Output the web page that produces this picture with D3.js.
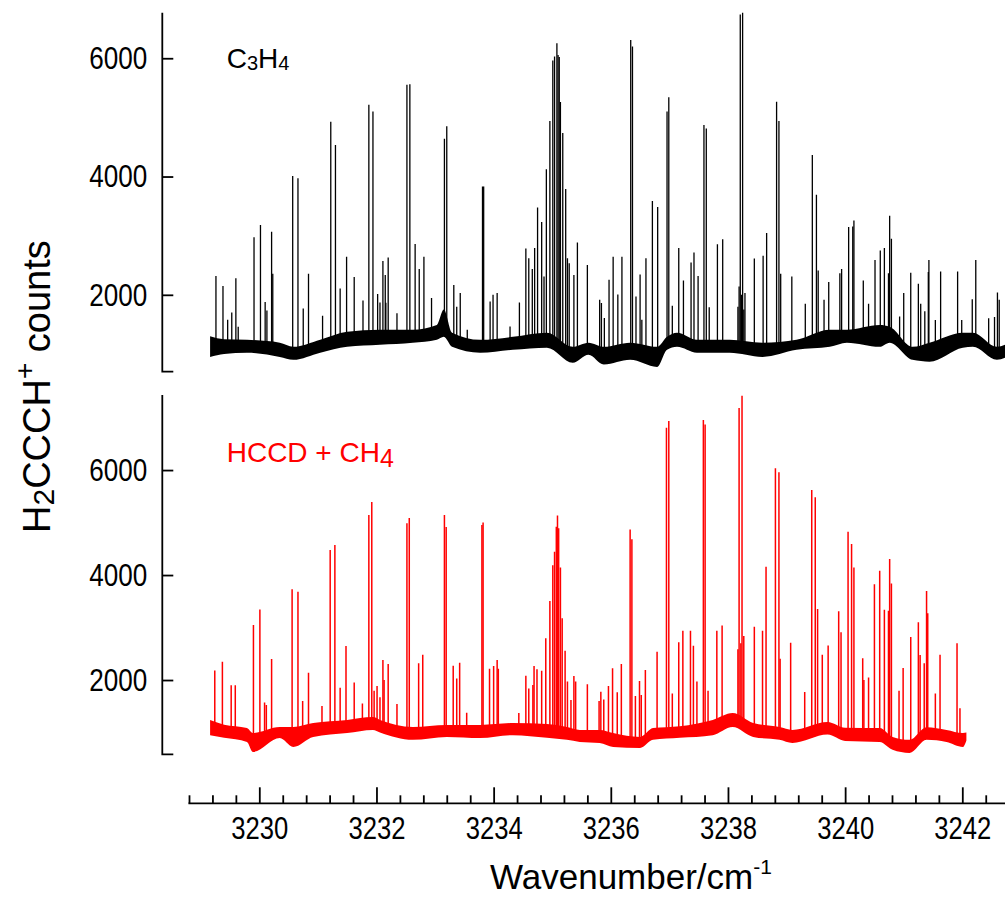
<!DOCTYPE html>
<html><head><meta charset="utf-8">
<script src="https://cdn.jsdelivr.net/npm/d3@7"></script>
<style>body{margin:0;background:#fff} svg{display:block}</style>
</head><body>
<svg id="chart" width="1005" height="897"></svg>
<script>
// ---------- data ----------
const xMajorTicks = [3230, 3232, 3234, 3236, 3238, 3240, 3242];
const xMinorTicks = [3228.8, 3229.2, 3229.6, 3230.4, 3230.8, 3231.2, 3231.6, 3232.4, 3232.8, 3233.2, 3233.6,
  3234.4, 3234.8, 3235.2, 3235.6, 3236.4, 3236.8, 3237.2, 3237.6, 3238.4, 3238.8, 3239.2, 3239.6,
  3240.4, 3240.8, 3241.2, 3241.6, 3242.4];
const yTickValues = [2000, 4000, 6000];

// baseline noise band: [wavenumber, lower counts, upper counts]
const c3h4Baseline = [
  [3229.16, 950, 1300], [3229.40, 1000, 1250], [3229.79, 1020, 1240], [3230.35, 950, 1190],
  [3230.58, 900, 1120], [3231.04, 1020, 1240], [3231.50, 1120, 1375], [3232.06, 1155, 1410],
  [3232.62, 1190, 1410], [3233.03, 1240, 1490], [3233.15, 1290, 1750], [3233.29, 1120, 1360],
  [3233.77, 1020, 1240], [3234.33, 1070, 1290], [3234.91, 1105, 1360], [3235.35, 850, 1120],
  [3235.62, 985, 1190], [3235.88, 820, 1120], [3236.33, 900, 1190], [3236.79, 780, 1120],
  [3236.96, 1070, 1290], [3237.13, 1120, 1360], [3237.47, 1020, 1240], [3238.03, 1020, 1240],
  [3238.59, 950, 1190], [3239.17, 1070, 1240], [3239.74, 1120, 1410], [3240.03, 1190, 1410],
  [3240.59, 1120, 1490], [3240.76, 1190, 1460], [3241.15, 900, 1120], [3241.44, 870, 1190],
  [3242.01, 1105, 1360], [3242.18, 1120, 1360], [3242.59, 900, 1120], [3242.73, 935, 1155]
];
// peaks: [wavenumber, counts at top]
const c3h4Peaks = [
  [3229.26,2320],[3229.38,2150],[3229.46,1580],[3229.53,1700],[3229.60,2280],[3229.64,1460],
  [3229.91,2975],[3230.02,3180],[3230.10,1880],[3230.13,1735],[3230.21,3065],[3230.23,2355],
  [3230.57,4010],[3230.66,3970],[3230.75,1770],[3230.84,2355],[3231.08,1645],
  [3231.22,4925],[3231.30,4535],[3231.38,2105],[3231.49,2645],[3231.62,2300],[3231.77,1905],
  [3231.87,5215],[3231.94,5100],[3232.02,2015],[3232.06,1870],[3232.11,2570],[3232.15,2335],[3232.16,1865],[3232.20,2630],[3232.35,1690],
  [3232.52,5550],[3232.57,5560],[3232.66,2860],[3232.73,2435],[3232.81,2645],[3232.94,1945],
  [3233.16,4640],[3233.20,4850],[3233.32,2165],[3233.37,1800],[3233.43,2030],[3233.55,1410],
  [3233.81,3830],[3233.83,3830],[3233.94,1885],[3233.99,2000],[3234.06,2030],[3234.28,1465],[3234.44,1870],
  [3234.55,2785],[3234.60,2620],[3234.66,2435],[3234.70,2790],[3234.75,3475],[3234.82,3230],[3234.86,2310],
  [3234.90,4125],[3234.96,4940],[3235.01,5960],[3235.04,6030],[3235.08,6255],[3235.10,6055],[3235.12,6020],
  [3235.14,5260],[3235.18,4735],[3235.23,3790],[3235.26,2620],[3235.29,2535],[3235.37,2335],[3235.43,2885],
  [3235.60,2505],[3235.81,1915],[3235.84,1860],[3235.89,1610],[3235.97,2255],[3236.04,2645],[3236.12,2005],[3236.19,2645],
  [3236.34,6310],[3236.37,6200],[3236.43,1970],[3236.50,2345],[3236.53,1580],[3236.60,2620],[3236.71,3585],[3236.80,3485],
  [3236.96,5100],[3236.99,5340],[3237.05,1815],[3237.16,2790],[3237.24,2240],[3237.37,2545],[3237.42,2715],[3237.49,2320],
  [3237.59,4870],[3237.63,4810],[3237.68,1790],[3237.82,2855],[3237.91,2940],
  [3238.17,1800],[3238.19,2140],[3238.21,6740],[3238.23,2000],[3238.25,6770],[3238.27,1750],[3238.29,2030],
  [3238.45,2615],[3238.60,2660],[3238.66,3045],
  [3238.83,5265],[3238.87,4940],[3238.90,2355],[3239.09,2310],[3239.32,1850],
  [3239.44,4365],[3239.51,3690],[3239.54,2410],[3239.64,1915],[3239.72,2215],[3239.91,2365],[3239.94,2435],
  [3240.06,3145],[3240.13,3155],[3240.15,3255],[3240.31,2240],[3240.40,1850],[3240.51,2590],[3240.60,2750],
  [3240.67,2790],[3240.74,2365],[3240.76,3335],[3240.79,2950],
  [3240.93,1635],[3241.00,2030],[3241.12,2375],[3241.25,2185],[3241.29,1850],[3241.36,1720],[3241.42,2385],
  [3241.43,2590],[3241.54,1575],[3241.63,2395],
  [3241.92,2395],[3241.99,1575],[3242.17,1925],[3242.23,2590],[3242.45,1605],[3242.55,1625],[3242.60,2040],[3242.63,1915]
];

const hccdBaseline = [
  [3229.16, 950, 1240], [3229.40, 900, 1150], [3229.79, 820, 1085], [3229.89, 630, 990],
  [3230.35, 895, 1105], [3230.58, 725, 1105], [3230.92, 915, 1180], [3231.50, 990, 1240],
  [3231.94, 1050, 1295], [3232.06, 1000, 1240], [3232.62, 860, 1105], [3233.20, 915, 1145],
  [3233.77, 895, 1145], [3234.33, 950, 1180], [3234.91, 900, 1160], [3235.25, 860, 1105],
  [3235.47, 820, 1050], [3235.81, 800, 1050], [3236.04, 725, 990], [3236.50, 705, 915],
  [3236.72, 860, 1085], [3237.18, 900, 1120], [3237.74, 950, 1240], [3238.08, 1105, 1370],
  [3238.43, 915, 1180], [3238.88, 860, 1105], [3239.10, 800, 1050], [3239.70, 960, 1200],
  [3240.00, 840, 1090], [3240.59, 820, 1085], [3240.81, 670, 915], [3241.10, 610, 860],
  [3241.39, 860, 1100], [3241.73, 820, 1050], [3242.01, 725, 990], [3242.07, 850, 1000]
];
const hccdPeaks = [
  [3229.24,2180],[3229.37,2350],[3229.52,1900],[3229.59,1900],[3229.90,3050],[3230.01,3345],
  [3230.09,1570],[3230.12,1525],[3230.21,2400],[3230.56,3730],[3230.66,3680],[3230.74,1600],[3230.84,2140],
  [3231.07,1505],[3231.21,4475],[3231.29,4570],[3231.38,1855],[3231.48,2650],[3231.62,1955],[3231.76,1555],
  [3231.87,5145],[3231.92,5390],[3231.96,1795],[3232.01,1885],[3232.06,1670],[3232.11,2380],[3232.13,2000],
  [3232.20,2305],[3232.35,1545],[3232.52,4985],[3232.56,5085],[3232.72,2320],[3232.79,2480],
  [3233.16,5145],[3233.19,4915],[3233.31,2270],[3233.37,2030],[3233.42,2330],[3233.54,1375],
  [3233.80,4955],[3233.82,5000],[3233.93,2215],[3234.00,2265],[3234.06,2380],[3234.08,2215],[3234.43,1370],
  [3234.55,2080],[3234.60,1840],[3234.67,1905],[3234.69,2265],[3234.74,2205],[3234.82,2175],[3234.89,2795],
  [3234.96,3505],[3235.01,4185],[3235.04,4445],[3235.07,4920],[3235.09,5135],[3235.11,4890],[3235.14,4145],
  [3235.17,3175],[3235.22,2560],[3235.26,1970],[3235.32,1620],[3235.37,2075],[3235.40,1970],[3235.60,1920],
  [3235.80,1600],[3235.83,1775],[3235.88,1630],[3235.96,1885],[3236.03,2225],[3236.11,1765],[3236.18,2305],
  [3236.33,4870],[3236.36,4680],[3236.42,1695],[3236.49,1980],[3236.52,1715],[3236.59,2190],[3236.79,2540],
  [3236.95,6805],[3236.99,6935],[3237.05,1745],[3237.16,2720],[3237.23,2940],[3237.36,2940],[3237.41,2655],
  [3237.47,1970],[3237.58,6955],[3237.61,6870],[3237.66,1795],[3237.81,2940],[3237.90,3040],
  [3238.17,2585],[3238.19,7180],[3238.22,2700],[3238.24,7415],[3238.27,2840],[3238.45,3015],[3238.59,2940],
  [3238.65,4160],[3238.81,6035],[3238.87,5960],[3238.89,2405],[3239.07,2710],[3239.31,1770],
  [3239.43,5620],[3239.49,5480],[3239.53,3355],[3239.61,2480],[3239.71,2660],[3239.89,3310],[3239.93,2910],
  [3240.05,4825],[3240.11,4590],[3240.15,4145],[3240.30,2415],[3240.32,2000],[3240.40,2050],
  [3240.50,3825],[3240.59,4080],[3240.67,3340],[3240.74,3320],[3240.76,4305],[3240.79,3840],
  [3240.92,1795],[3240.99,2230],[3241.12,2820],[3241.25,3100],[3241.28,2475],[3241.35,2320],[3241.39,3695],
  [3241.41,3270],[3241.54,1745],[3241.62,2480],[3241.91,2700],[3241.96,1460]
];

// ---------- layout ----------
const svg = d3.select("#chart");
const FONT = "'Liberation Sans', Arial, Helvetica, sans-serif";
const axisX = 162.3;
const xAxisY = 803.3;

const x = d3.scaleLinear().domain([3230, 3242]).range([259.3, 962.3]);
const xAxisScale = x.copy().domain([3228.79, 3242.74]).range([x(3228.79), x(3242.74)]);
const yTop = d3.scaleLinear().domain([700, 6770]).range([371.7, 12.7]);
const yBot = d3.scaleLinear().domain([585, 7430]).range([754.3, 395]);

const defs = svg.append("defs");

function drawPanel(baseline, peaks, y, color, id, peakWidth) {
  const [r0, r1] = y.range();
  defs.append("clipPath").attr("id", id).append("rect")
    .attr("x", axisX + 1).attr("y", r1 - 1).attr("width", 1005 - axisX).attr("height", r0 - r1 + 2);
  const g = svg.append("g").attr("clip-path", `url(#${id})`);
  const area = d3.area().x(d => x(d[0])).y0(d => y(d[1])).y1(d => y(d[2])).curve(d3.curveMonotoneX);
  g.append("path").datum(baseline).attr("d", area)
    .attr("fill", color).attr("stroke", "none");
  const center = d3.scaleLinear()
    .domain(baseline.map(d => d[0]))
    .range(baseline.map(d => (d[1] + d[2]) / 2)).clamp(true);
  g.selectAll("line.pk").data(peaks).join("line").attr("class", "pk")
    .attr("x1", d => x(d[0])).attr("x2", d => x(d[0]))
    .attr("y1", d => y(center(d[0]))).attr("y2", d => y(d[1]))
    .attr("stroke", color).attr("stroke-width", peakWidth);
}

drawPanel(c3h4Baseline, c3h4Peaks, yTop, "#000000", "clipTop", 1.3);
drawPanel(hccdBaseline, hccdPeaks, yBot, "#ff0000", "clipBot", 1.5);

// ---------- y axes ----------
function drawYAxis(y) {
  const [r0, r1] = y.range();
  const g = svg.append("g").attr("transform", `translate(${axisX},0)`);
  g.call(d3.axisLeft(y).tickValues(yTickValues).tickSize(-11).tickPadding(15).tickFormat(d3.format("d")));
  g.select(".domain").remove();
  g.selectAll(".tick line").attr("stroke", "#000").attr("stroke-width", 1.8);
  g.selectAll(".tick text").attr("fill", "#000").attr("font-family", FONT).attr("font-size", 32)
    .attr("textLength", 58).attr("lengthAdjust", "spacingAndGlyphs");
  g.append("path").attr("d", `M0,${r1}V${r0}H11`).attr("fill", "none")
    .attr("stroke", "#000").attr("stroke-width", 1.8);
}
drawYAxis(yTop);
drawYAxis(yBot);

// ---------- x axis ----------
const gx = svg.append("g").attr("transform", `translate(0,${xAxisY})`);
gx.call(d3.axisBottom(xAxisScale).tickValues(xMajorTicks).tickSize(-16).tickPadding(13).tickFormat(d3.format("d")));
gx.select(".domain").remove();
gx.selectAll(".tick line").attr("stroke", "#000").attr("stroke-width", 1.8);
gx.selectAll(".tick text").attr("fill", "#000").attr("font-family", FONT).attr("font-size", 32)
  .attr("textLength", 57).attr("lengthAdjust", "spacingAndGlyphs");
const gxm = svg.append("g").attr("transform", `translate(0,${xAxisY})`);
gxm.call(d3.axisBottom(xAxisScale).tickValues(xMinorTicks).tickSize(-8).tickFormat(""));
gxm.select(".domain").remove();
gxm.selectAll(".tick line").attr("stroke", "#000").attr("stroke-width", 1.8);
svg.append("line").attr("x1", xAxisScale.range()[0]).attr("x2", 1005)
  .attr("y1", xAxisY).attr("y2", xAxisY).attr("stroke", "#000").attr("stroke-width", 1.8);

// ---------- titles ----------
const xt = svg.append("text").attr("x", 490).attr("y", 889)
  .attr("font-family", FONT).attr("font-size", 35).attr("fill", "#000");
xt.append("tspan").text("Wavenumber/cm");
xt.append("tspan").attr("font-size", 21).attr("dy", -15).text("-1");

const yt = svg.append("text").attr("transform", "translate(50,533) rotate(-90)")
  .attr("font-family", FONT).attr("font-size", 38).attr("fill", "#000");
yt.append("tspan").text("H");
yt.append("tspan").attr("font-size", 30).attr("dy", 4).text("2");
yt.append("tspan").attr("dy", -4).text("CCCH");
yt.append("tspan").attr("font-size", 28).attr("dy", -16).text("+");
yt.append("tspan").attr("dy", 16).text(" counts");

// panel labels
const l1 = svg.append("text").attr("x", 226.7).attr("y", 68.3)
  .attr("font-family", FONT).attr("font-size", 28).attr("fill", "#000");
l1.append("tspan").text("C");
l1.append("tspan").attr("font-size", 20).attr("dy", 2).text("3");
l1.append("tspan").attr("dy", -2).text("H");
l1.append("tspan").attr("font-size", 20).attr("dy", 2).text("4");

const l2 = svg.append("text").attr("x", 226.7).attr("y", 461.7)
  .attr("font-family", FONT).attr("font-size", 28).attr("fill", "#ff0000");
l2.append("tspan").text("HCCD + CH");
l2.append("tspan").attr("font-size", 25).attr("dy", 5).text("4");
</script>
</body></html>
